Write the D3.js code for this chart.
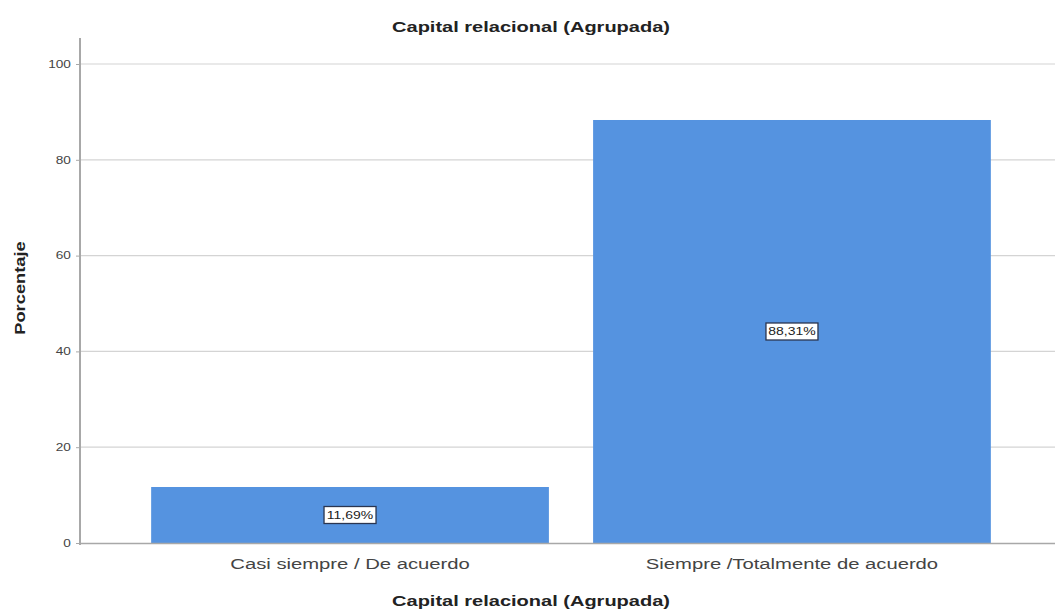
<!DOCTYPE html>
<html><head><meta charset="utf-8">
<script src="https://cdn.jsdelivr.net/npm/d3@7"></script>
<style>body{margin:0;background:#fff}svg{display:block;font-family:Arial,"Liberation Sans",sans-serif}</style>
</head><body><svg id="c" width="1055" height="616"></svg>
<script>
const categories = ["Casi siempre / De acuerdo", "Siempre /Totalmente de acuerdo"];
const values = [11.69, 88.31];
const valueLabels = ["11,69%", "88,31%"];
const yTicks = [0, 20, 40, 60, 80, 100];
const title = "Capital relacional (Agrupada)";
const xTitle = "Capital relacional (Agrupada)";
const yTitle = "Porcentaje";

const svg = d3.select("#c");
const x = d3.scaleBand().domain(categories).range([80, 1062]).paddingInner(0.1).paddingOuter(0.161);
const y = d3.scaleLinear().domain([0, 100]).range([543, 64]);

// gridlines
svg.append("g").selectAll("line").data(yTicks.filter(d => d > 0)).join("line")
  .attr("x1", 80).attr("x2", 1055).attr("y1", d => y(d)).attr("y2", d => y(d))
  .attr("stroke", "#d4d4d4").attr("stroke-width", 1.2);

// bars
svg.append("g").selectAll("rect").data(values).join("rect")
  .attr("x", (d, i) => x(categories[i])).attr("width", x.bandwidth())
  .attr("y", d => y(d)).attr("height", d => y(0) - y(d))
  .attr("fill", "#5593e0");

// axes
const yAxis = svg.append("g").attr("transform", "translate(80,0)")
  .call(d3.axisLeft(y).tickValues(yTicks).tickSize(4).tickPadding(3));
yAxis.select(".domain").attr("d", "M0,38V545").attr("stroke", "#a8a8a8").attr("stroke-width", 2);
yAxis.selectAll(".tick line").attr("stroke", "#a8a8a8");
yAxis.selectAll(".tick text").attr("fill", "#444").style("font-size", "10.5px")
  .attr("transform", "scale(1.3,1)");

svg.append("line").attr("x1", 79).attr("x2", 1055).attr("y1", y(0) + 0.5).attr("y2", y(0) + 0.5)
  .attr("stroke", "#a8a8a8").attr("stroke-width", 1.5);

const xAxis = svg.append("g").attr("transform", "translate(0,543)")
  .call(d3.axisBottom(x).tickSize(0).tickPadding(15));
xAxis.select(".domain").remove();
xAxis.selectAll(".tick text").attr("fill", "#444").style("font-size", "15px")
  .attr("transform", "scale(1.35,1)");

// value labels
const lab = svg.append("g").selectAll("g").data(values).join("g")
  .attr("transform", (d, i) => `translate(${x(categories[i]) + x.bandwidth() / 2},${(y(d) + y(0)) / 2})`);
lab.append("rect").attr("x", -26).attr("y", -8.5).attr("width", 52).attr("height", 17)
  .attr("fill", "#fff").attr("stroke", "#2a3550").attr("stroke-width", 1.3);
lab.append("text").text((d, i) => valueLabels[i]).attr("text-anchor", "middle").attr("dy", "0.36em")
  .attr("transform", "scale(1.27,1)")
  .style("font-size", "11px").attr("fill", "#222");

// titles
svg.append("text").text(title).attr("transform", "translate(531,32) scale(1.38,1)").attr("text-anchor", "middle")
  .style("font-size", "14.5px").style("font-weight", "bold").attr("fill", "#222");
svg.append("text").text(xTitle).attr("transform", "translate(531,606) scale(1.38,1)").attr("text-anchor", "middle")
  .style("font-size", "14.5px").style("font-weight", "bold").attr("fill", "#222");
svg.append("text").text(yTitle).attr("transform", "translate(25,288) rotate(-90) scale(1.22,1)").attr("text-anchor", "middle")
  .style("font-size", "15px").style("font-weight", "bold").attr("fill", "#222");
</script></body></html>
